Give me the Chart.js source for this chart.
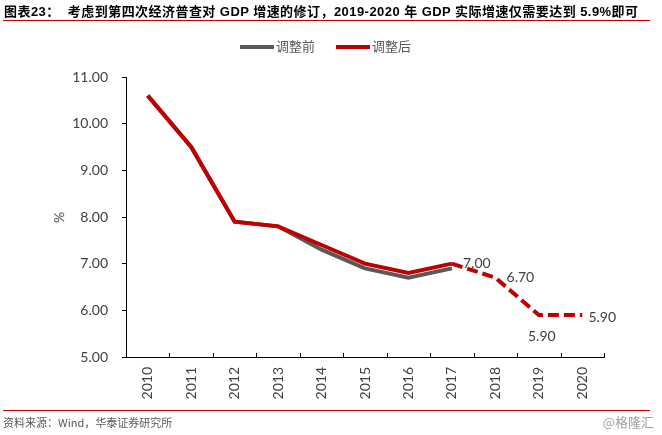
<!DOCTYPE html>
<html>
<head>
<meta charset="utf-8">
<script src="https://cdn.jsdelivr.net/npm/chart.js@4"></script>
<style>
  body { margin: 0; background: #fff; font-family: "Liberation Sans", "Noto Sans CJK SC", sans-serif; }
  #wrap { position: relative; width: 662px; height: 435px; overflow: hidden; }
  #chart { position: absolute; left: 0; top: 0; }
  .title { position: absolute; left: 4px; top: 1px; font-size: 13px; font-weight: bold; color: #000; white-space: nowrap; letter-spacing: 0.45px; font-family: "Liberation Sans", "Noto Sans CJK SC", sans-serif; }
  .rule { position: absolute; left: 3px; width: 647px; height: 1px; background: #c00000; }
  .legend { position: absolute; top: 36px; left: 240px; font-size: 13px; color: #595959; white-space: nowrap; font-family: "Noto Sans CJK SC", sans-serif; }
  .legend span.sw { display: inline-block; width: 34px; height: 4px; vertical-align: middle; margin-right: 2px; }
  .unit { position: absolute; left: 53px; top: 209px; font-size: 14px; color: #404040; transform: rotate(-90deg); font-family: Lato, sans-serif; }
  .source { position: absolute; left: 3px; top: 414px; font-size: 11px; color: #595959; font-family: "Noto Sans CJK SC", sans-serif; }
  .mark { position: absolute; right: 8px; top: 412px; font-size: 13px; color: #a0a0a0; font-family: "Noto Sans CJK SC", sans-serif; }
</style>
</head>
<body>
<div id="wrap">
  <canvas id="chart" width="662" height="435"></canvas>
  <div class="title">图表23：&nbsp;&nbsp;考虑到第四次经济普查对 GDP 增速的修订，2019-2020 年 GDP 实际增速仅需要达到 5.9%即可</div>
  <div class="rule" style="top:20px"></div>
  <div class="legend"><span class="sw" style="background:#595959"></span>调整前<span style="display:inline-block;width:21px"></span><span class="sw" style="background:#c00000"></span>调整后</div>
  <div class="unit">%</div>
  <div class="rule" style="top:410px"></div>
  <div class="source">资料来源：Wind，华泰证券研究所</div>
  <div class="mark">@格隆汇</div>
</div>
<script>
const years = ["2010", "2011", "2012", "2013", "2014", "2015", "2016", "2017", "2018", "2019", "2020"];
const beforeAdj = [10.6, 9.5, 7.9, 7.8, 7.3, 6.9, 6.7, 6.9, null, null, null];
const afterAdj = [10.6, 9.5, 7.9, 7.8, 7.4, 7.0, 6.8, 7.0, null, null, null];
const forecast = [null, null, null, null, null, null, null, 7.0, 6.7, 5.9, 5.9];

// labels on the forecast points: [index, dx, dy]
const labelPos = [[7, 25, 0], [8, 25, 0], [9, 3, 21], [10, 20, 2]];

const inwardTicks = {
  id: "inwardTicks",
  afterDraw(chart) {
    const ctx = chart.ctx;
    const x = chart.scales.x;
    const area = chart.chartArea;
    const step = (area.right - area.left) / years.length;
    ctx.save();
    ctx.strokeStyle = "#000";
    ctx.lineWidth = 1;
    ctx.beginPath();
    for (let i = 1; i <= years.length; i++) {
      const px = Math.round(area.left + i * step) + 0.5;
      ctx.moveTo(px, x.top);
      ctx.lineTo(px, x.top - 4);
    }
    ctx.stroke();

    const y = chart.scales.y;
    ctx.fillStyle = "#404040";
    ctx.font = "14px Lato, sans-serif";
    ctx.textAlign = "center";
    ctx.textBaseline = "middle";
    labelPos.forEach(([i, dx, dy]) => {
      const v = forecast[i];
      ctx.fillText(v.toFixed(2), x.getPixelForValue(i) + dx, y.getPixelForValue(v) + dy);
    });
    ctx.restore();
  },
};

new Chart(document.getElementById("chart"), {
  type: "line",
  data: {
    labels: years,
    datasets: [
      {
        label: "调整前",
        data: beforeAdj,
        borderColor: "#595959",
        borderWidth: 4,
        pointRadius: 0,
        tension: 0,
        order: 3,
      },
      {
        label: "调整后",
        data: afterAdj,
        borderColor: "#c00000",
        borderWidth: 4,
        pointRadius: 0,
        tension: 0,
        order: 2,
      },
      {
        label: "预测",
        data: forecast,
        borderColor: "#c00000",
        borderWidth: 4,
        borderDash: [11, 5],
        pointRadius: 0,
        tension: 0,
        order: 1,
      },
    ],
  },
  options: {
    responsive: false,
    animation: false,
    layout: { padding: { left: 0, top: 77, right: 58, bottom: 28 } },
    plugins: {
      legend: { display: false },
      tooltip: { enabled: false },
    },
    scales: {
      x: {
        offset: true,
        afterFit: (s) => { s.height = 50; },
        grid: { display: false, drawTicks: false },
        border: { color: "#000", width: 1 },
        ticks: {
          minRotation: 90,
          maxRotation: 90,
          padding: 10,
          color: "#404040",
          font: { size: 14, family: "Lato, sans-serif" },
        },
      },
      y: {
        min: 5,
        max: 11,
        afterFit: (s) => { s.width = 126; },
        grid: { drawOnChartArea: false, drawTicks: true, tickLength: 4, color: "#000" },
        border: { color: "#000", width: 1 },
        ticks: {
          stepSize: 1,
          padding: 14,
          color: "#404040",
          font: { size: 14, family: "Lato, sans-serif" },
          callback: (v) => v.toFixed(2),
        },
      },
    },
  },
  plugins: [inwardTicks],
});
</script>
</body>
</html>
